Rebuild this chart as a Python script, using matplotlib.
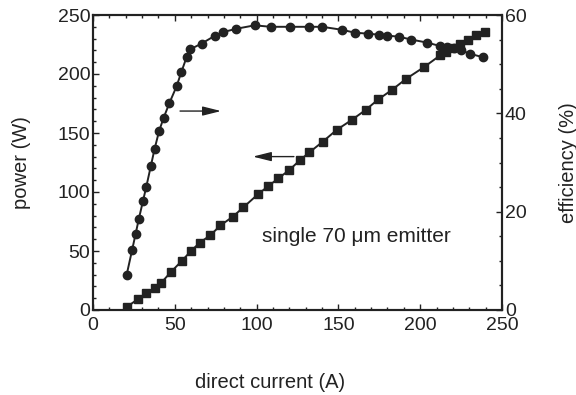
import matplotlib
matplotlib.use("Agg")
import matplotlib.pyplot as plt
from matplotlib.ticker import MultipleLocator

# Operating current (A) and optical output power (W)
pow_current = [20.6, 27.7, 32.6, 37.6, 41.8, 47.5, 54.2, 60.1, 65.4, 71.7, 77.9, 85.4,
               91.9, 101.0, 107.2, 113.3, 120.0, 126.5, 132.2, 140.4, 149.0, 158.4,
               166.6, 174.4, 182.6, 191.5, 202.5, 212.1, 215.8, 219.2, 224.3, 229.4,
               234.2, 239.6]
power = [2.5, 9.5, 14.0, 18.3, 23.2, 32.0, 41.5, 50.3, 57.2, 63.3, 71.7, 79.0,
         87.0, 98.3, 105.0, 111.6, 118.6, 127.0, 133.5, 142.6, 152.7, 161.3,
         169.5, 178.5, 186.4, 196.0, 206.0, 215.7, 218.9, 221.7, 225.5, 229.0,
         232.7, 236.0]

# Operating current (A) and wall-plug efficiency (%)
eff_current = [20.6, 23.9, 26.0, 28.0, 30.5, 32.6, 35.3, 37.6, 40.4, 43.2, 46.7, 51.1,
               54.0, 57.3, 59.3, 66.4, 74.6, 79.3, 87.6, 98.8, 108.6, 120.4, 131.8,
               140.1, 152.0, 160.1, 168.3, 174.6, 180.0, 186.8, 194.6, 204.0, 212.1,
               216.5, 220.5, 225.0, 230.7, 238.4]
efficiency = [7.2, 12.2, 15.4, 18.5, 22.1, 25.1, 29.2, 32.7, 36.4, 39.1, 42.1, 45.5,
              48.4, 51.5, 53.0, 54.2, 55.8, 56.5, 57.2, 57.9, 57.6, 57.6, 57.6,
              57.6, 57.0, 56.4, 56.2, 56.0, 55.8, 55.6, 55.0, 54.4, 53.7,
              53.5, 53.3, 52.8, 52.1, 51.4]

ink = "#222222"
plt.rcParams["font.family"] = ["Liberation Sans", "DejaVu Sans"]
plt.rcParams["font.size"] = 14

fig = plt.figure(figsize=(5.76, 3.95), dpi=100)
ax = fig.add_axes([93 / 576, 1 - 310 / 395, 409 / 576, 295 / 395])
ax2 = ax.twinx()

ax.plot(pow_current, power, color=ink, lw=1.4, marker="s", ms=5.5,
        mfc=ink, mec=ink, zorder=3)
ax2.plot(eff_current, efficiency, color=ink, lw=1.4, marker="o", ms=6,
         mfc=ink, mec=ink, zorder=3)

ax.set_xlim(0, 250)
ax.set_ylim(0, 250)
ax2.set_ylim(0, 60)

ax.xaxis.set_major_locator(MultipleLocator(50))
ax.xaxis.set_minor_locator(MultipleLocator(10))
ax.yaxis.set_major_locator(MultipleLocator(50))
ax.yaxis.set_minor_locator(MultipleLocator(10))
ax2.yaxis.set_major_locator(MultipleLocator(20))
ax2.yaxis.set_minor_locator(MultipleLocator(5))

for a in (ax, ax2):
    for s in a.spines.values():
        s.set_linewidth(1.5)
        s.set_color(ink)
    a.tick_params(which="both", direction="in", color=ink, labelcolor=ink,
                  width=1.0, labelsize=14)
    a.tick_params(which="major", length=4, pad=2)
    a.tick_params(which="minor", length=2)
ax.tick_params(which="both", top=True, right=False)
ax2.tick_params(which="both", right=True, left=False)
ax.tick_params(axis="x", pad=5)

# Arrows pointing each curve to its own axis
ax.annotate("", xy=(80, 168.6), xytext=(51.5, 168.6),
            arrowprops=dict(arrowstyle="-|>,head_length=0.8,head_width=0.2",
                            color=ink, lw=1.0))
ax.annotate("", xy=(96, 130), xytext=(124.5, 130),
            arrowprops=dict(arrowstyle="-|>,head_length=0.8,head_width=0.2",
                            color=ink, lw=1.0))

ax.text(103.5, 62, "single 70 \u03bcm emitter", va="center", ha="left",
        color=ink, fontsize=15)

fig.text(22 / 576, 1 - 163 / 395, "power (W)", rotation=90, va="center",
         ha="center", color=ink, fontsize=14.5)
fig.text(568 / 576, 1 - 163 / 395, "efficiency (%)", rotation=90, va="center",
         ha="center", color=ink, fontsize=14.5)
fig.text(270 / 576, 1 - 382 / 395, "direct current (A)", va="center",
         ha="center", color=ink, fontsize=14.5)

fig.savefig("out.png", dpi=100)
